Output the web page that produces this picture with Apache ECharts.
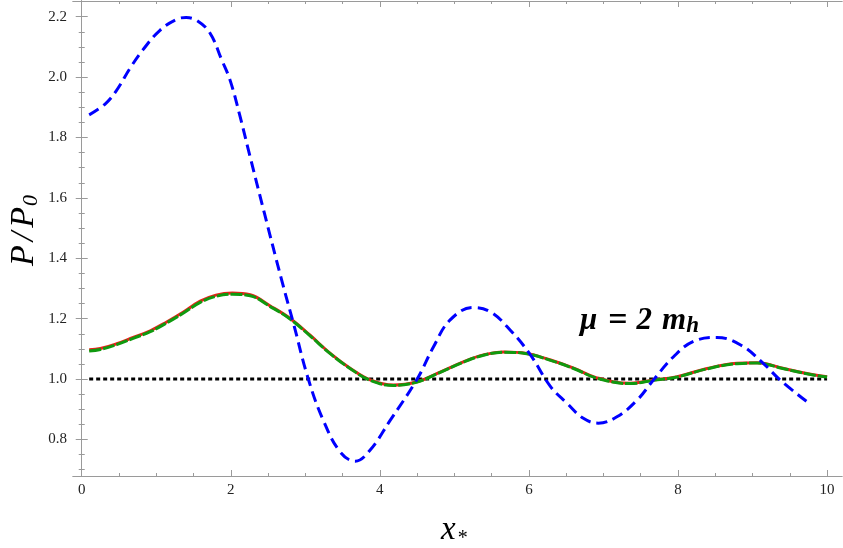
<!DOCTYPE html>
<html>
<head>
<meta charset="utf-8">
<script src="https://cdn.jsdelivr.net/npm/echarts@6/dist/echarts.min.js"></script>
<style>
  html, body { margin: 0; padding: 0; background: #fff; }
  #chart { width: 843px; height: 548px; }
</style>
</head>
<body>
<div id="chart"></div>
<script>
  // blue dashed curve
  const blueX = [0.1, 0.31, 0.47, 0.65, 0.82, 1.05, 1.28, 1.4, 1.54, 1.72, 1.88, 1.99, 2.12, 2.23, 2.45, 2.68, 2.84, 3.04, 3.24, 3.47, 3.67, 3.87, 4.14, 4.5, 4.72, 4.94, 5.25, 5.48, 5.75, 6.02, 6.29, 6.51, 6.73, 6.93, 7.18, 7.45, 7.67, 7.94, 8.2, 8.52, 8.84, 9.14, 9.37, 9.73];
  const blueY = [1.875, 1.91, 1.957, 2.03, 2.09, 2.155, 2.192, 2.197, 2.188, 2.146, 2.056, 1.99, 1.874, 1.765, 1.55, 1.33, 1.185, 1.0, 0.864, 0.758, 0.728, 0.765, 0.864, 1.0, 1.107, 1.195, 1.237, 1.223, 1.162, 1.08, 0.975, 0.92, 0.87, 0.854, 0.875, 0.93, 0.997, 1.074, 1.124, 1.138, 1.113, 1.053, 0.997, 0.925];

  // red solid curve (under the green one)
  const redX = [0.1, 0.25, 0.47, 0.69, 0.92, 1.14, 1.36, 1.59, 1.8, 2.02, 2.26, 2.53, 2.8, 3.06, 3.33, 3.6, 3.87, 4.18, 4.5, 4.77, 5.12, 5.39, 5.66, 5.97, 6.29, 6.6, 6.91, 7.36, 7.67, 7.99, 8.39, 8.79, 9.06, 9.42, 9.78, 10.0];
  const redY = [1.097, 1.101, 1.117, 1.138, 1.16, 1.189, 1.221, 1.258, 1.278, 1.285, 1.279, 1.242, 1.2, 1.146, 1.086, 1.036, 0.997, 0.98, 0.991, 1.019, 1.057, 1.08, 1.09, 1.085, 1.063, 1.036, 1.004, 0.986, 0.997, 1.008, 1.035, 1.052, 1.054, 1.035, 1.016, 1.008];

  // green dashed curve
  const greenX = redX;
  const greenY = [1.093, 1.098, 1.114, 1.135, 1.157, 1.186, 1.218, 1.254, 1.274, 1.281, 1.276, 1.24, 1.198, 1.144, 1.085, 1.035, 0.996, 0.979, 0.99, 1.018, 1.056, 1.079, 1.089, 1.084, 1.062, 1.035, 1.003, 0.985, 0.996, 1.007, 1.034, 1.051, 1.053, 1.034, 1.015, 1.007];

  // reference line
  const refX = [0.1, 10.0];
  const refY = [1.0, 1.0];

  const xMajor = [0, 2, 4, 6, 8, 10];
  const xMinor = [0.5, 1, 1.5, 2.5, 3, 3.5, 4.5, 5, 5.5, 6.5, 7, 7.5, 8.5, 9, 9.5];
  const yMajor = [0.8, 1.0, 1.2, 1.4, 1.6, 1.8, 2.0, 2.2];
  const yMinor = [0.7, 0.75, 0.85, 0.9, 0.95, 1.05, 1.1, 1.15, 1.25, 1.3, 1.35, 1.45, 1.5, 1.55, 1.65, 1.7, 1.75, 1.85, 1.9, 1.95, 2.05, 2.1, 2.15, 2.25];

  const zip = (xs, ys) => xs.map((x, i) => [x, ys[i]]);

  const frame = '#9a9a9a';
  const serif = '"Liberation Serif", "DejaVu Serif", serif';

  function xAx(pos, ticks, len, labels) {
    return {
      type: 'value', position: pos, min: -0.117, max: 10.2,
      splitLine: { show: false },
      axisLine: { show: true, lineStyle: { color: frame, width: 1 } },
      axisTick: { show: true, inside: true, length: len, customValues: ticks, lineStyle: { color: frame } },
      axisLabel: labels ? { show: true, customValues: ticks, margin: 7, color: '#222', fontFamily: serif, fontSize: 15 } : { show: false }
    };
  }
  function yAx(pos, ticks, len, labels) {
    return {
      type: 'value', position: pos, min: 0.679, max: 2.252,
      splitLine: { show: false },
      axisLine: { show: true, lineStyle: { color: frame, width: 1 } },
      axisTick: { show: true, inside: true, length: len, customValues: ticks, lineStyle: { color: frame } },
      axisLabel: labels ? { show: true, customValues: ticks, margin: 6, color: '#222', fontFamily: serif, fontSize: 15,
        formatter: v => v.toFixed(1) } : { show: false }
    };
  }

  const chart = echarts.init(document.getElementById('chart'));
  const option = {
    animation: false,
    backgroundColor: '#fff',
    grid: { left: 73, right: 1, top: 1, bottom: 72, containLabel: false },
    xAxis: [
      xAx('bottom', xMajor, 6, true),
      xAx('bottom', xMinor, 3, false),
      xAx('top', xMajor, 6, false),
      xAx('top', xMinor, 3, false)
    ],
    yAxis: [
      yAx('left', yMajor, 6, true),
      yAx('left', yMinor, 3, false),
      yAx('right', yMajor, 6, false),
      yAx('right', yMinor, 3, false)
    ],
    series: [
      {
        type: 'line', data: zip(refX, refY), symbol: 'none',
        lineStyle: { color: '#000', width: 3, type: [4, 3] }
      },
      {
        type: 'line', data: zip(redX, redY), symbol: 'none', smooth: 0.4,
        lineStyle: { color: '#e8211b', width: 3 }
      },
      {
        type: 'line', data: zip(greenX, greenY), symbol: 'none', smooth: 0.4,
        lineStyle: { color: '#0f9a0f', width: 3, type: [12, 2] }
      },
      {
        type: 'line', data: zip(blueX, blueY), symbol: 'none', smooth: 0.4,
        lineStyle: { color: '#0000ff', width: 3, type: [11, 6] }
      }
    ],
    graphic: [
      {
        type: 'text', left: 7, top: 195, rotation: Math.PI / 2,
        style: {
          text: '{p|P}{s|/}{p|P}{b|0}',
          rich: {
            p: { fontFamily: serif, fontStyle: 'italic', fontSize: 34, fill: '#000' },
            s: { fontFamily: serif, fontStyle: 'italic', fontSize: 34, fill: '#000', padding: [0, 4, 0, 4] },
            b: { fontFamily: serif, fontStyle: 'italic', fontSize: 22, fill: '#000', padding: [14, 0, 0, 1] }
          }
        }
      },
      {
        type: 'text', left: 441, top: 514,
        style: {
          text: '{a|x}{b|*}',
          rich: {
            a: { fontFamily: serif, fontStyle: 'italic', fontSize: 33, fill: '#000' },
            b: { fontFamily: serif, fontSize: 20, fill: '#000', padding: [16, 0, 0, 2] }
          }
        }
      },
      {
        type: 'text', left: 580, top: 304,
        style: {
          text: '{a|μ}{e|=}{a|2}{m|m}{b|h}',
          rich: {
            a: { fontFamily: serif, fontStyle: 'italic', fontWeight: 'bold', fontSize: 31, fill: '#000' },
            e: { fontFamily: serif, fontWeight: 'bold', fontSize: 34, fill: '#000', padding: [0, 9, 0, 11] },
            m: { fontFamily: serif, fontStyle: 'italic', fontWeight: 'bold', fontSize: 31, fill: '#000', padding: [0, 0, 0, 10] },
            b: { fontFamily: serif, fontStyle: 'italic', fontWeight: 'bold', fontSize: 23, fill: '#000', padding: [10, 0, 0, 0] }
          }
        }
      }
    ]
  };
  chart.setOption(option);
</script>
</body>
</html>
